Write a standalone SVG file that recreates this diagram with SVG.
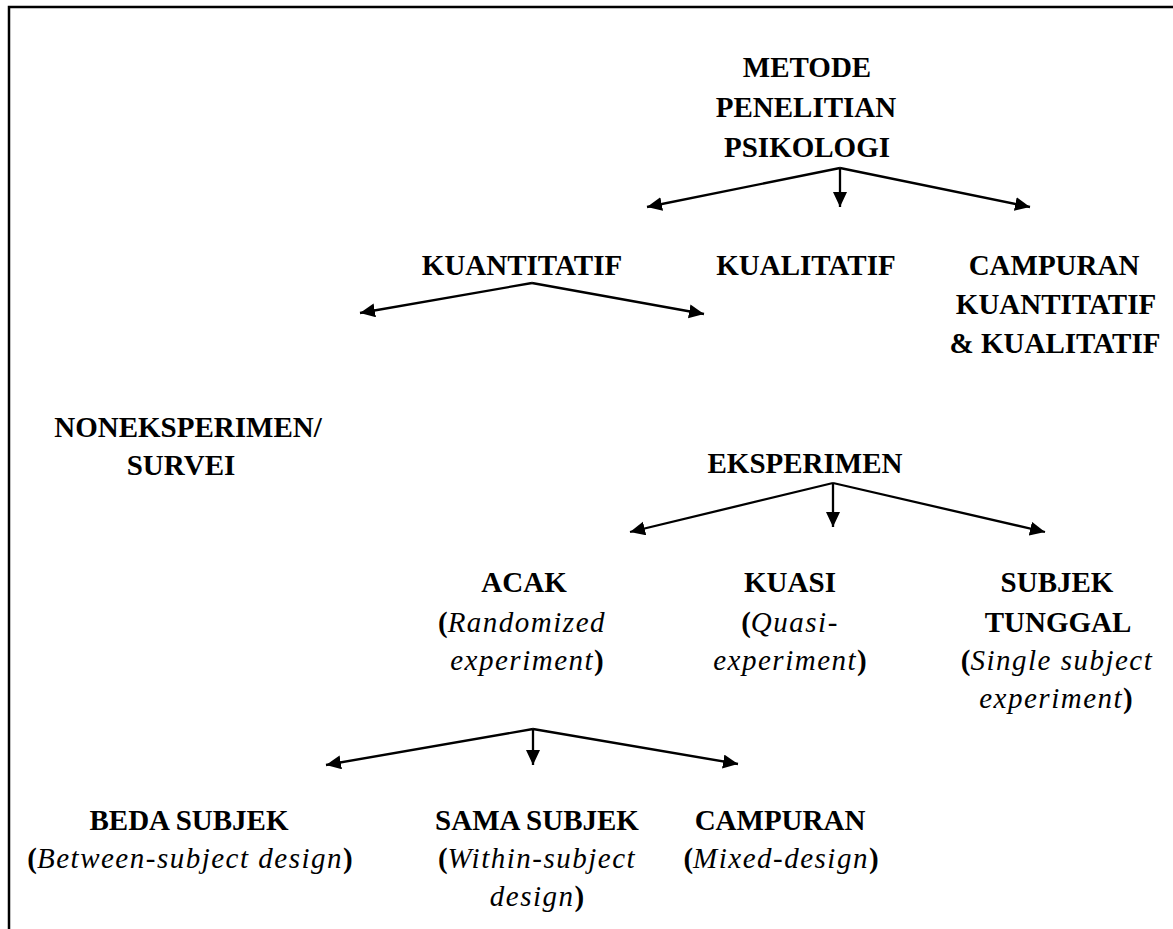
<svg xmlns="http://www.w3.org/2000/svg" width="1173" height="929" viewBox="0 0 1173 929">
<style>
text{font-family:"Liberation Serif","Times New Roman",serif;font-weight:bold;font-size:29px;fill:#000;text-anchor:middle}
.i{font-style:italic;font-weight:normal;letter-spacing:1.5px}
.c{stroke:#000;stroke-width:2.3;fill:none;marker-end:url(#ah)}
</style>
<defs>
<marker id="ah" markerUnits="userSpaceOnUse" markerWidth="17" markerHeight="15" refX="15" refY="7" orient="auto">
<path d="M0,0 L15,7 L0,14 Z" fill="#000"/>
</marker>
</defs>
<rect width="1173" height="929" fill="#fff"/>
<g id="border" stroke="#000" stroke-width="2.5" fill="none">
<path d="M9,929 L9,7 L1173,7"/>
</g>
<g id="connectors">
<path class="c" d="M840,168 L647,207"/>
<path class="c" d="M840,168 L840,207"/>
<path class="c" d="M840,168 L1030,207"/>
<path class="c" d="M532,283 L360,313"/>
<path class="c" d="M532,283 L704,314"/>
<path class="c" d="M833,483 L630,532"/>
<path class="c" d="M833,483 L833,527"/>
<path class="c" d="M833,483 L1045,532"/>
<path class="c" d="M533,729 L326,765"/>
<path class="c" d="M533,729 L533,765"/>
<path class="c" d="M533,729 L738,764"/>
</g>
<g id="n-metode">
<text x="807" y="77">METODE</text>
<text x="806" y="117">PENELITIAN</text>
<text x="807" y="157">PSIKOLOGI</text>
</g>
<g id="n-kuantitatif"><text x="522" y="275">KUANTITATIF</text></g>
<g id="n-kualitatif"><text x="806" y="275">KUALITATIF</text></g>
<g id="n-campuran">
<text x="1054" y="275">CAMPURAN</text>
<text x="1056" y="314">KUANTITATIF</text>
<text x="1055" y="353">&amp; KUALITATIF</text>
</g>
<g id="n-noneksperimen">
<text x="188" y="437">NONEKSPERIMEN/</text>
<text x="181" y="475">SURVEI</text>
</g>
<g id="n-eksperimen"><text x="805" y="473">EKSPERIMEN</text></g>
<g id="n-acak">
<text x="524" y="592">ACAK</text>
<text x="522" y="632">(<tspan class="i">Randomized</tspan></text>
<text x="527" y="670"><tspan class="i">experiment</tspan>)</text>
</g>
<g id="n-kuasi">
<text x="790" y="592">KUASI</text>
<text x="790" y="632">(<tspan class="i">Quasi-</tspan></text>
<text x="790" y="670"><tspan class="i">experiment</tspan>)</text>
</g>
<g id="n-subjek-tunggal">
<text x="1057" y="592">SUBJEK</text>
<text x="1058" y="632">TUNGGAL</text>
<text x="1057" y="670">(<tspan class="i">Single subject</tspan></text>
<text x="1056" y="708"><tspan class="i">experiment</tspan>)</text>
</g>
<g id="n-beda">
<text x="189" y="830">BEDA SUBJEK</text>
<text x="190" y="868">(<tspan class="i">Between-subject design</tspan>)</text>
</g>
<g id="n-sama">
<text x="537" y="830">SAMA SUBJEK</text>
<text x="537" y="868">(<tspan class="i">Within-subject</tspan></text>
<text x="537" y="906"><tspan class="i">design</tspan>)</text>
</g>
<g id="n-campuran2">
<text x="780" y="830">CAMPURAN</text>
<text x="781" y="868">(<tspan class="i">Mixed-design</tspan>)</text>
</g>
</svg>
